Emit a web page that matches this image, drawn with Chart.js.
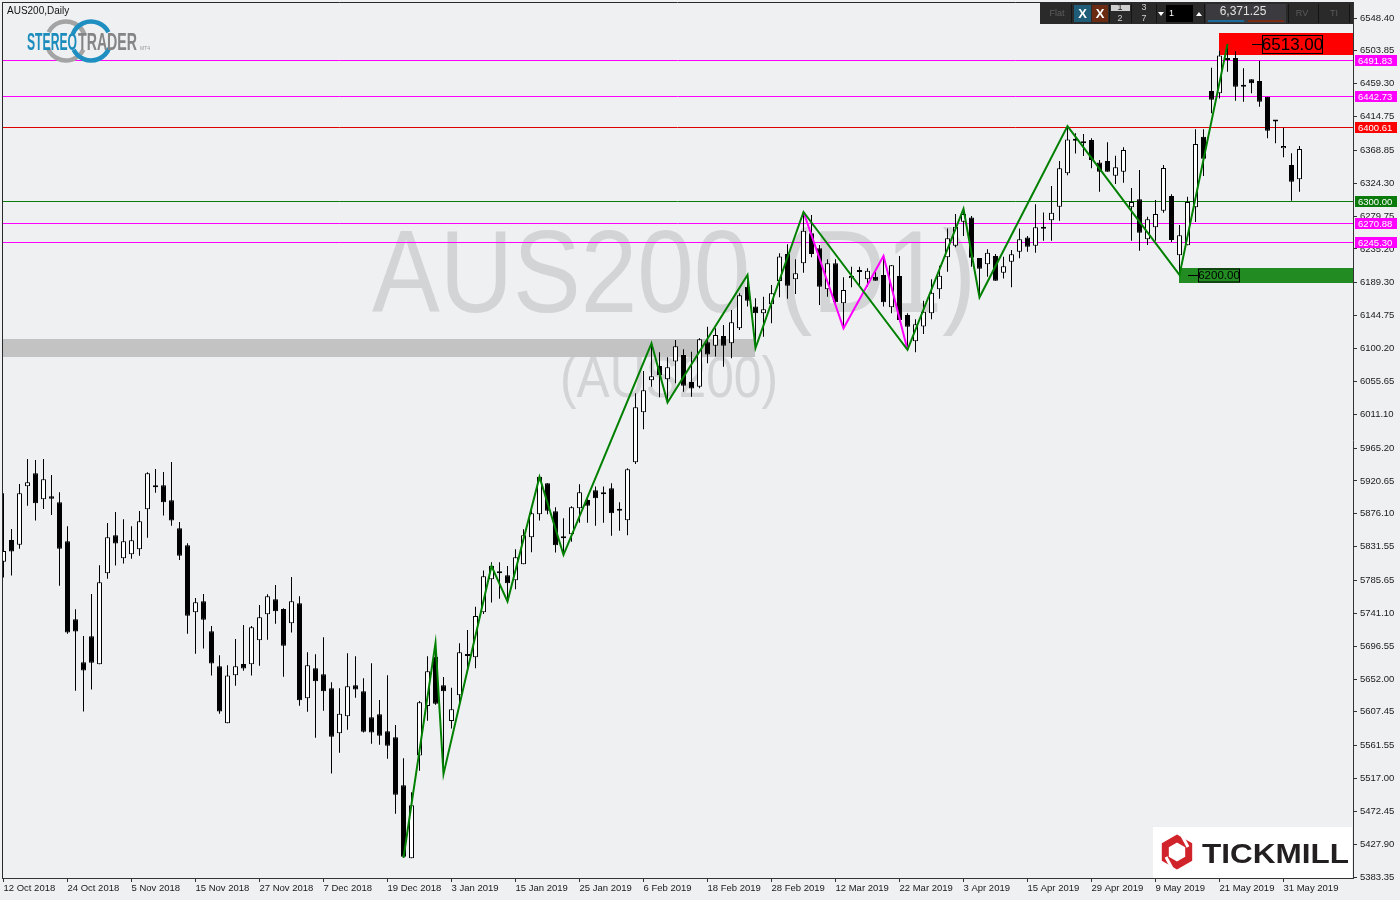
<!DOCTYPE html>
<html>
<head>
<meta charset="utf-8">
<script src="https://cdn.jsdelivr.net/npm/chart.js@4.4.1/dist/chart.umd.min.js"></script>
<style>
html,body{margin:0;padding:0;background:#eff0f2;overflow:hidden}
canvas{display:block}
</style>
</head>
<body>
<canvas id="c" width="1400" height="900"></canvas>
<script>
// ---------- DATA ----------
const tickLabels = ['12 Oct 2018','24 Oct 2018','5 Nov 2018','15 Nov 2018','27 Nov 2018','7 Dec 2018','19 Dec 2018','3 Jan 2019','15 Jan 2019','25 Jan 2019','6 Feb 2019','18 Feb 2019','28 Feb 2019','12 Mar 2019','22 Mar 2019','3 Apr 2019','15 Apr 2019','29 Apr 2019','9 May 2019','21 May 2019','31 May 2019'];
const priceTicks = [6548.40,6503.85,6459.30,6414.75,6368.85,6324.30,6279.75,6235.20,6189.30,6144.75,6100.20,6055.65,6011.10,5965.20,5920.65,5876.10,5831.55,5785.65,5741.10,5696.55,5652.00,5607.45,5561.55,5517.00,5472.45,5427.90,5383.35];

const opens = [5811.1,5840.6,5834.2,5913.3,5931.0,5895.7,5899.8,5891.6,5838.8,5733.0,
5674.7,5709.9,5672.0,5795.4,5846.9,5815.7,5821.1,5827.9,5882.1,5912.0,
5914.7,5894.3,5856.4,5833.3,5742.5,5757.4,5716.7,5669.2,5591.9,5657.0,
5672.4,5671.9,5704.5,5739.7,5760.1,5747.0,5727.5,5754.6,5625.8,5666.5,
5658.4,5639.4,5578.4,5601.4,5643.4,5635.3,5600.1,5604.1,5581.1,5572.9,
5507.8,5408.9,5548.1,5615.4,5682.3,5643.4,5595.0,5630.0,5683.2,5681.4,
5742.5,5787.2,5795.3,5792.6,5785.8,5807.5,5844.2,5875.3,5917.4,5879.4,
5842.8,5848.2,5883.5,5894.8,5907.9,5902.5,5910.6,5881.7,5867.2,5945.9,
6013.7,6057.1,6076.5,6058.4,6082.6,6091.4,6054.8,6048.5,6108.6,6104.1,
6117.2,6107.2,6127.6,6184.1,6157.0,6147.9,6160.1,6191.8,6228.4,6194.0,
6215.7,6256.4,6236.1,6180.5,6215.7,6161.5,6195.4,6204.0,6194.0,6197.6,
6199.9,6156.1,6198.5,6145.7,6110.0,6130.0,6148.0,6180.4,6223.8,6239.6,
6272.2,6278.0,6222.9,6214.3,6225.6,6203.0,6217.9,6231.5,6250.9,6239.6,
6262.7,6274.0,6292.5,6337.7,6382.0,6378.4,6382.9,6352.6,6354.4,6334.6,
6340.0,6291.6,6302.5,6248.2,6264.5,6287.1,6307.0,6226.5,6240.1,6291.6,
6387.5,6449.4,6446.2,6491.4,6494.1,6455.3,6465.2,6462.9,6441.7,6408.2,
6371.6,6349.0,6329.6];

const highs = [5903.8,5855.5,5916.5,5950.4,5949.0,5950.4,5928.7,5905.2,5859.1,5746.5,
5710.4,5767.3,5806.2,5863.6,5878.5,5868.6,5859.1,5879.9,5932.3,5936.8,
5932.8,5946.3,5865.0,5836.0,5761.9,5767.3,5723.9,5684.2,5670.6,5706.3,
5725.3,5723.9,5752.4,5766.8,5779.5,5747.9,5790.3,5764.1,5688.2,5685.5,
5708.5,5647.5,5639.4,5686.8,5682.8,5652.9,5673.3,5623.5,5657.0,5589.7,
5544.5,5498.4,5622.2,5682.8,5700.6,5654.7,5640.0,5700.4,5718.5,5750.1,
5799.0,5810.3,5810.3,5805.3,5827.9,5855.0,5882.1,5927.8,5917.4,5884.8,
5869.9,5886.2,5916.0,5897.1,5912.9,5912.9,5917.4,5891.6,5937.7,6039.4,
6069.7,6107.0,6095.0,6088.2,6111.8,6099.1,6095.9,6114.0,6129.8,6127.6,
6132.1,6152.4,6175.0,6198.6,6168.3,6170.5,6186.3,6229.3,6241.5,6221.1,
6285.0,6281.3,6240.6,6221.1,6221.1,6196.7,6211.2,6211.2,6209.0,6204.4,
6225.0,6213.5,6225.7,6147.9,6140.0,6165.0,6194.0,6212.5,6263.1,6282.6,
6289.0,6279.9,6222.9,6234.7,6228.4,6224.7,6233.8,6263.1,6252.7,6295.7,
6284.8,6320.5,6354.4,6401.5,6392.0,6391.1,6385.2,6355.8,6379.8,6361.7,
6373.0,6317.9,6342.3,6279.0,6301.6,6349.0,6309.3,6267.7,6306.1,6397.4,
6397.4,6481.0,6504.1,6513.0,6503.2,6480.1,6465.2,6490.5,6441.7,6410.1,
6399.7,6364.9,6374.8];

const lows = [5789.5,5792.2,5828.8,5887.1,5866.8,5882.6,5874.5,5778.6,5713.5,5636.2,
5607.8,5637.6,5672.0,5788.1,5805.8,5808.5,5815.2,5819.3,5843.7,5904.7,
5873.6,5860.0,5813.4,5713.5,5686.4,5693.2,5656.6,5605.0,5591.9,5643.0,
5663.3,5656.6,5670.1,5705.4,5727.1,5655.2,5714.9,5615.9,5607.7,5572.5,
5609.1,5523.7,5552.1,5583.3,5626.7,5579.3,5564.3,5563.0,5544.0,5469.4,
5409.5,5408.9,5527.7,5595.5,5617.2,5523.0,5585.0,5615.0,5666.5,5666.5,
5740.0,5755.6,5761.0,5757.0,5773.6,5807.5,5823.8,5866.8,5875.3,5823.4,
5820.5,5838.3,5864.0,5864.0,5860.0,5864.0,5846.4,5853.2,5846.9,5943.6,
5990.6,6048.5,6034.0,6027.0,6053.0,6041.7,6034.9,6046.2,6080.1,6089.2,
6075.6,6086.9,6125.3,6157.0,6101.0,6116.3,6134.4,6169.6,6167.8,6174.1,
6203.1,6223.9,6159.2,6170.5,6157.9,6128.0,6183.2,6186.3,6184.1,6192.2,
6157.0,6147.9,6136.6,6098.5,6095.0,6120.0,6140.0,6167.8,6204.4,6237.4,
6252.7,6211.2,6169.6,6197.6,6192.2,6195.3,6183.1,6222.5,6231.5,6230.1,
6246.4,6246.4,6273.5,6335.0,6364.8,6361.2,6344.5,6312.9,6340.0,6323.3,
6325.1,6246.4,6232.9,6240.6,6246.4,6284.4,6244.6,6200.0,6240.1,6271.7,
6334.1,6419.1,6439.4,6475.6,6436.3,6434.9,6446.2,6428.1,6385.2,6378.4,
6359.4,6300.7,6312.9];

const closes = [5825.6,5824.8,5903.8,5918.8,5890.3,5922.8,5896.6,5828.8,5714.9,5716.3,
5663.4,5674.2,5783.1,5844.2,5835.6,5838.8,5840.1,5865.9,5931.0,5914.7,
5891.6,5866.8,5819.3,5737.9,5756.0,5732.5,5672.9,5607.8,5656.6,5669.2,
5666.1,5722.1,5735.7,5764.1,5743.8,5697.2,5757.4,5623.1,5670.6,5648.9,
5635.3,5573.8,5605.0,5642.1,5637.6,5580.6,5579.3,5575.2,5561.6,5495.2,
5411.1,5480.7,5620.4,5662.4,5618.6,5635.3,5611.0,5688.2,5685.9,5737.5,
5791.3,5805.7,5798.1,5781.8,5817.0,5846.9,5876.7,5926.4,5880.3,5833.3,
5845.5,5884.8,5905.2,5887.1,5897.1,5902.5,5876.7,5880.3,5936.4,6020.4,
6043.5,6062.5,6063.8,6074.7,6103.4,6049.8,6045.8,6112.7,6091.9,6118.5,
6104.1,6135.7,6172.3,6165.1,6147.9,6153.3,6175.0,6224.8,6185.4,6202.2,
6260.0,6228.4,6184.1,6215.7,6162.8,6179.6,6198.5,6204.0,6205.8,6192.2,
6162.8,6213.0,6138.9,6129.8,6133.0,6150.0,6175.9,6198.9,6249.6,6265.4,
6282.6,6223.4,6208.4,6230.1,6192.2,6211.6,6227.9,6248.2,6238.3,6264.5,
6262.7,6284.4,6344.5,6383.8,6382.0,6381.1,6355.8,6340.0,6340.0,6345.9,
6369.4,6298.9,6257.3,6275.4,6282.6,6345.0,6247.3,6253.7,6298.9,6377.5,
6357.6,6437.6,6497.7,6493.7,6455.3,6455.3,6459.8,6434.9,6395.6,6408.2,
6374.8,6326.4,6370.7];

// zigzag indicator vertices (bar index, price)
const greenZigIdx = [50,54,55,61,63,67,70,81,83,93,94,100,113,120,122,133,147,153];
const greenZigPrice = [5409.5,5700.6,5523.0,5805.0,5757.2,5926.0,5820.3,6107.3,6027.0,6199.9,6100.9,6285.3,6098.5,6289.4,6169.6,6401.9,6200.0,6513.0];
const magentaZigIdx = [100,105,110,113];
const magentaZigPrice = [6285.3,6127.6,6225.6,6098.5];

// horizontal levels
const magentaLevels = [6491.83, 6442.73, 6270.88, 6245.30];
const redLevels = [6400.61];
const greenLevels = [6300.00];

// zones: [fromBar, toBar, lowPrice, highPrice]  (toBar null = right edge)
const grayZone = [-2, 94, 6088.7, 6113.5];
const redZone = [152, null, 6498.2, 6528.5];
const greenZone = [147, null, 6189.0, 6209.5];
// price tags: [bar, price]
const redTag = [156, 6513.00];
const greenTag = [148, 6200.00];
const lastPrice = 6371.25;

// ---------- RENDER ----------
Chart.defaults.font.family = '"Liberation Sans", Arial, sans-serif';
const BG = '#eff0f2';

const wickData = opens.map((o,i)=>({x:i, y:[lows[i], highs[i]]}));
const bodyData = opens.map((o,i)=>({x:i, y:[Math.min(o,closes[i]), Math.max(o,closes[i])]}));
const bodyFill = opens.map((o,i)=> closes[i] >= o ? '#ffffff' : '#000000');
const greenZig = greenZigIdx.map((v,i)=>({x:v, y:greenZigPrice[i]}));
const magentaZig = magentaZigIdx.map((v,i)=>({x:v, y:magentaZigPrice[i]}));

function fitText(ctx, txt, x, y, w, font) {
  ctx.font = font;
  const m = ctx.measureText(txt).width;
  ctx.save();
  ctx.translate(x, y);
  ctx.scale(w / m, 1);
  ctx.textAlign = 'left';
  ctx.fillText(txt, 0, 0);
  ctx.restore();
}

function drawStereo(ctx) {
  ctx.save();
  ctx.lineWidth = 4.5;
  ctx.lineCap = 'butt';
  ctx.strokeStyle = '#a4a4a4';
  ctx.beginPath(); ctx.arc(66, 41, 19.5, Math.PI*1.15, Math.PI*1.9); ctx.stroke();
  ctx.beginPath(); ctx.arc(66, 41, 19.5, Math.PI*0.15, Math.PI*0.88); ctx.stroke();
  ctx.strokeStyle = '#1e8fc0';
  ctx.beginPath(); ctx.arc(91, 41, 19.5, Math.PI*1.12, Math.PI*1.85); ctx.stroke();
  ctx.beginPath(); ctx.arc(91, 41, 19.5, Math.PI*0.12, Math.PI*0.85); ctx.stroke();
  ctx.textBaseline = 'alphabetic';
  ctx.fillStyle = '#1b8cbc';
  fitText(ctx, 'STEREO', 27, 50, 50, 'bold 23px "Liberation Sans Narrow", "Liberation Sans"');
  ctx.fillStyle = '#858585';
  fitText(ctx, 'TRADER', 78, 50, 59, 'bold 23px "Liberation Sans Narrow", "Liberation Sans"');
  ctx.fillStyle = '#9a9a9a';
  ctx.font = '5px "Liberation Sans"';
  ctx.fillText('MT4', 140, 50);
  ctx.restore();
}

function drawTickmill(ctx) {
  ctx.save();
  ctx.fillStyle = '#ffffff';
  ctx.fillRect(1153, 827, 199, 51);
  const cx = 1177, cy = 852, r = 13.5;
  ctx.strokeStyle = '#d1232a'; ctx.lineWidth = 7; ctx.lineJoin = 'miter';
  ctx.beginPath();
  for (let k = 0; k < 6; k++) {
    const ang = Math.PI / 180 * (-90 + 60 * k);
    const px = cx + r * Math.cos(ang), py = cy + r * Math.sin(ang);
    if (k) ctx.lineTo(px, py); else ctx.moveTo(px, py);
  }
  ctx.closePath(); ctx.stroke();
  ctx.strokeStyle = '#ffffff'; ctx.lineWidth = 3;
  ctx.beginPath(); ctx.moveTo(cx + 2, cy - 22); ctx.lineTo(cx + 11, cy - 5); ctx.stroke();
  ctx.beginPath(); ctx.moveTo(cx - 2, cy + 22); ctx.lineTo(cx - 11, cy + 5); ctx.stroke();
  ctx.fillStyle = '#231f20';
  ctx.textBaseline = 'alphabetic';
  fitText(ctx, 'TICKMILL', 1202, 863, 147, 'bold 27px "Liberation Sans"');
  ctx.restore();
}

function drawToolbar(ctx) {
  ctx.save();
  ctx.fillStyle = '#2a2a2a'; ctx.fillRect(1040, 3, 313, 21);
  ctx.fillStyle = '#141414';
  [1071, 1109, 1131, 1156, 1204, 1288, 1318, 1349].forEach(x => ctx.fillRect(x, 4, 1, 19));
  ctx.textBaseline = 'middle'; ctx.textAlign = 'center';
  ctx.font = '9px "Liberation Sans"';
  ctx.fillStyle = '#5f5f5f'; ctx.fillText('Flat', 1057, 14);
  ctx.fillStyle = '#1f5c77'; ctx.fillRect(1074, 5, 17, 17);
  ctx.fillStyle = '#6b2a12'; ctx.fillRect(1092, 5, 16, 17);
  ctx.font = 'bold 13px "Liberation Sans"'; ctx.fillStyle = '#ffffff';
  ctx.fillText('X', 1082.5, 14); ctx.fillText('X', 1100, 14);
  ctx.fillStyle = '#cfcfcf'; ctx.fillRect(1111, 5, 19, 6);
  ctx.font = '9px "Liberation Sans"';
  ctx.fillStyle = '#222'; ctx.fillText('1', 1120, 8);
  ctx.fillStyle = '#d0d0d0'; ctx.fillText('2', 1120, 19);
  ctx.fillText('3', 1144, 8); ctx.fillText('7', 1144, 19);
  ctx.fillStyle = '#ffffff';
  ctx.beginPath(); ctx.moveTo(1158, 12); ctx.lineTo(1164, 12); ctx.lineTo(1161, 16); ctx.closePath(); ctx.fill();
  ctx.fillStyle = '#000'; ctx.fillRect(1166, 5, 27, 17);
  ctx.fillStyle = '#ffffff'; ctx.textAlign = 'left'; ctx.fillText('1', 1169, 14);
  ctx.beginPath(); ctx.moveTo(1196, 16); ctx.lineTo(1202, 16); ctx.lineTo(1199, 12); ctx.closePath(); ctx.fill();
  ctx.fillStyle = '#3b3b3f'; ctx.fillRect(1206, 4, 80, 19);
  ctx.textAlign = 'center'; ctx.font = '12px "Liberation Sans"'; ctx.fillStyle = '#e2e2e2';
  ctx.fillText(lastPrice.toLocaleString('en-US', {minimumFractionDigits: 2}), 1243, 12);
  ctx.fillStyle = '#1c6d9c'; ctx.fillRect(1208, 20, 36, 2);
  ctx.fillStyle = '#7c2b12'; ctx.fillRect(1248, 20, 36, 2);
  ctx.font = '9px "Liberation Sans"'; ctx.fillStyle = '#5a5a5a';
  ctx.fillText('RV', 1302, 14); ctx.fillText('TI', 1334, 14);
  ctx.restore();
}

const decor = {
  id: 'decor',
  beforeDraw(chart) {
    const {ctx} = chart;
    ctx.save();
    ctx.fillStyle = BG; ctx.fillRect(0, 0, chart.width, chart.height);
    ctx.fillStyle = '#d3d4d6';
    ctx.textBaseline = 'alphabetic';
    fitText(ctx, 'AUS200 (D1)', 372, 312, 604, '116px "Liberation Sans"');
    fitText(ctx, '(AUS200)', 560, 397, 218, '58px "Liberation Sans"');
    ctx.restore();
  },
  beforeDatasetsDraw(chart) {
    const {ctx, chartArea: a, scales: {x, y}} = chart;
    ctx.save();
    ctx.beginPath(); ctx.rect(a.left, a.top, a.right - a.left, a.bottom - a.top); ctx.clip();
    const zone = (z, color) => {
      const x0 = Math.round(x.getPixelForValue(z[0]) - 0.5);
      const x1 = z[1] === null ? a.right : Math.round(x.getPixelForValue(z[1]) - 0.5);
      const y0 = Math.round(y.getPixelForValue(z[3])), y1 = Math.round(y.getPixelForValue(z[2]));
      ctx.fillStyle = color; ctx.fillRect(x0, y0, x1 - x0, y1 - y0);
    };
    zone(grayZone, '#c3c3c3');
    zone(redZone, '#ff0000');
    zone(greenZone, '#228b22');
    const hline = (p, color) => {
      const yy = Math.round(y.getPixelForValue(p)) + 0.5;
      ctx.strokeStyle = color; ctx.lineWidth = 1;
      ctx.beginPath(); ctx.moveTo(a.left, yy); ctx.lineTo(a.right, yy); ctx.stroke();
    };
    magentaLevels.forEach(p => hline(p, '#ff00ff'));
    redLevels.forEach(p => hline(p, '#e00000'));
    greenLevels.forEach(p => hline(p, '#0a7a0a'));
    ctx.restore();
  },
  afterDatasetsDraw(chart) {
    const {ctx, scales: {x, y}} = chart;
    ctx.save();
    const tag = (t, font, bw, bh) => {
      const x0 = Math.round(x.getPixelForValue(t[0]));
      const yy = Math.round(y.getPixelForValue(t[1]));
      ctx.strokeStyle = '#000'; ctx.lineWidth = 1;
      ctx.beginPath(); ctx.moveTo(x0, yy + 0.5); ctx.lineTo(x0 + 10, yy + 0.5); ctx.stroke();
      ctx.strokeRect(x0 + 10.5, yy - bh / 2 + 0.5, bw, bh);
      ctx.fillStyle = '#000'; ctx.font = font; ctx.textBaseline = 'middle'; ctx.textAlign = 'center';
      ctx.fillText(t[1].toFixed(2), x0 + 10.5 + bw / 2, yy + 1);
    };
    tag(redTag, '17px "Liberation Sans"', 60, 18);
    tag(greenTag, '11.5px "Liberation Sans"', 41, 13);
    ctx.restore();
  },
  afterDraw(chart) {
    const {ctx, chartArea: a, scales: {y}} = chart;
    ctx.save();
    ctx.strokeStyle = '#2a2a2a'; ctx.lineWidth = 1;
    ctx.beginPath();
    ctx.moveTo(2.5, 2); ctx.lineTo(2.5, a.bottom);
    ctx.moveTo(2, 2.5); ctx.lineTo(a.right, 2.5);
    ctx.stroke();
    const lab = (p, color) => {
      const yy = Math.round(y.getPixelForValue(p));
      ctx.fillStyle = color; ctx.fillRect(1355, yy - 5, 42, 11);
      ctx.fillStyle = '#ffffff'; ctx.font = '9.5px "Liberation Sans"';
      ctx.textBaseline = 'middle'; ctx.textAlign = 'left';
      ctx.fillText(p.toFixed(2), 1358, yy + 1);
    };
    magentaLevels.forEach(p => lab(p, '#ff00ff'));
    redLevels.forEach(p => lab(p, '#ff0000'));
    greenLevels.forEach(p => lab(p, '#0a7a0a'));
    ctx.fillStyle = '#111'; ctx.font = '10px "Liberation Sans"';
    ctx.textBaseline = 'middle'; ctx.textAlign = 'left';
    ctx.fillText('AUS200,Daily', 7, 11);
    drawStereo(ctx);
    drawTickmill(ctx);
    drawToolbar(ctx);
    ctx.restore();
  }
};

new Chart(document.getElementById('c'), {
  type: 'bar',
  data: {
    datasets: [
      {type: 'line', data: greenZig, borderColor: '#008000', borderWidth: 2, pointRadius: 0, tension: 0, fill: false, order: 1},
      {type: 'line', data: magentaZig, borderColor: '#ff00ff', borderWidth: 2, pointRadius: 0, tension: 0, fill: false, order: 1},
      {type: 'bar', data: bodyData, backgroundColor: bodyFill, borderColor: '#000000', borderWidth: 1, borderSkipped: false,
       barThickness: 5, minBarLength: 2, grouped: false, inflateAmount: 0, order: 2},
      {type: 'bar', data: wickData, backgroundColor: '#000000', borderWidth: 0, barThickness: 1,
       grouped: false, inflateAmount: 0, order: 3}
    ]
  },
  options: {
    responsive: false,
    animation: false,
    devicePixelRatio: 1,
    events: [],
    layout: {padding: {left: 2, top: 2, right: 0, bottom: 0}},
    plugins: {legend: {display: false}, tooltip: {enabled: false}},
    scales: {
      x: {
        type: 'linear', min: -0.1875, max: 168.6875, offset: false, bounds: 'data',
        afterBuildTicks: s => { s.ticks = tickLabels.map((t, k) => ({value: k * 8})); },
        afterFit: s => { s.height = 22; s.paddingLeft = 0; s.paddingRight = 0; },
        grid: {display: true, drawOnChartArea: false, drawTicks: true, tickLength: 4, color: '#333', offset: false},
        border: {display: true, color: '#333'},
        ticks: {
          autoSkip: false, maxRotation: 0, minRotation: 0, align: 'start', padding: 1,
          color: '#1a1a1a', font: {size: 9.5},
          callback: v => tickLabels[Math.round(v / 8)]
        }
      },
      y: {
        type: 'linear', position: 'right', min: 5382.14, max: 6570.10, bounds: 'data', beginAtZero: false,
        afterBuildTicks: s => { s.ticks = priceTicks.map(v => ({value: v})); },
        afterFit: s => { s.width = 47; s.paddingTop = 0; s.paddingBottom = 0; },
        grid: {display: true, drawOnChartArea: false, drawTicks: true, tickLength: 4, color: '#333'},
        border: {display: true, color: '#333'},
        ticks: {
          autoSkip: false, padding: 3, color: '#1a1a1a', font: {size: 9.5},
          callback: v => Number(v).toFixed(2)
        }
      }
    }
  },
  plugins: [decor]
});
</script>
</body>
</html>
